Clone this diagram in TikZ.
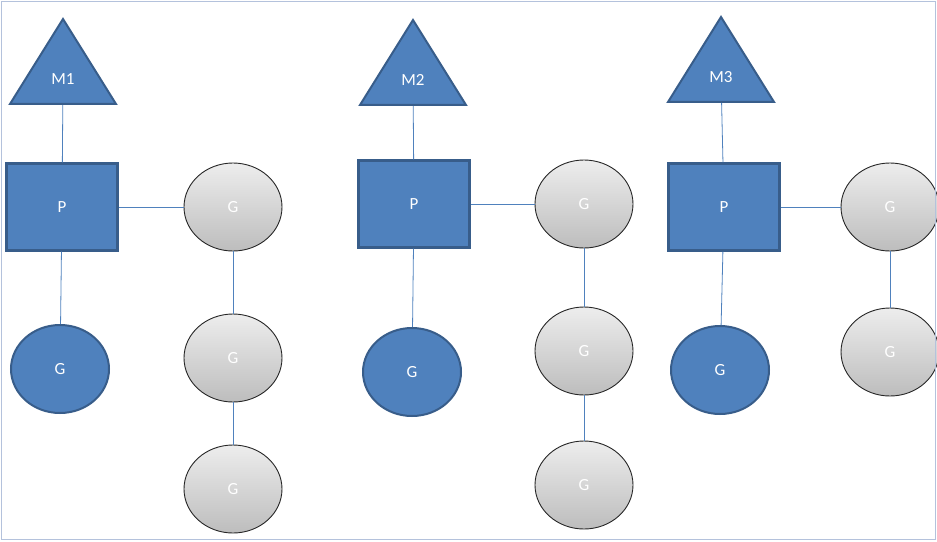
\documentclass[tikz,border=0pt]{standalone}
\usepackage{fontspec}
\setmainfont{Carlito}
\usepackage{xcolor}
\usepackage{tikz}
\usetikzlibrary{shapes.geometric}
\definecolor{ofblue}{HTML}{4F81BD}
\definecolor{ofedge}{HTML}{385D8A}
\definecolor{gtop}{HTML}{EDEDED}
\definecolor{gbot}{HTML}{BDBDBD}
\definecolor{framecol}{HTML}{B4C2DC}
\tikzset{
  mtri/.style={isosceles triangle, isosceles triangle stretches, shape border rotate=90,
    minimum width=106pt, minimum height=85pt, inner sep=0pt, anchor=south,
    fill=ofblue, draw=ofedge, line width=2pt, text=white},
  pbox/.style={rectangle, minimum width=111pt, minimum height=87pt,
    fill=ofblue, draw=ofedge, line width=2.4pt, text=white},
  gblue/.style={ellipse, minimum width=98pt, minimum height=88pt, inner sep=0pt,
    fill=ofblue, draw=ofedge, line width=2pt, text=white},
  ggray/.style={ellipse, minimum width=98pt, minimum height=88pt, inner sep=0pt,
    top color=gtop, bottom color=gbot, draw=black!85, line width=0.9pt, text=white},
  link/.style={draw=ofblue, line width=0.8pt}
}
\begin{document}
\begin{tikzpicture}[x=1pt, y=-1pt, font=\fontsize{17}{20}\selectfont]
  \useasboundingbox (0,0) rectangle (937,541);
  \node[mtri] (m1) at (63,105) {M1};
  \node[pbox] (p1) at (62,207) {P};
  \node[gblue] (gb1) at (60,369) {G};
  \node[ggray] (ga1) at (233,207) {G};
  \node[ggray] (gb1x) at (233,358) {G};
  \node[ggray] (gc1) at (233,489) {G};

  \node[mtri] (m2) at (413,106) {M2};
  \node[pbox] (p2) at (414,204) {P};
  \node[gblue] (gb2) at (412,372) {G};
  \node[ggray] (ga2) at (584,204) {G};
  \node[ggray] (gb2x) at (584,351) {G};
  \node[ggray] (gc2) at (584,485) {G};

  \node[mtri] (m3) at (721,103) {M3};
  \node[pbox] (p3) at (724,207) {P};
  \node[gblue] (gb3) at (720,370) {G};
  \node[ggray] (ga3) at (890,207) {G};
  \node[ggray] (gb3x) at (890,352) {G};

  \foreach \a/\b in {m1/p1,p1/gb1,p1/ga1,ga1/gb1x,gb1x/gc1,
                     m2/p2,p2/gb2,p2/ga2,ga2/gb2x,gb2x/gc2,
                     m3/p3,p3/gb3,p3/ga3,ga3/gb3x}{
    \path[link] (\a) -- (\b);}
  \draw[framecol, line width=1pt] (1,1) rectangle (935,539);
\end{tikzpicture}
\end{document}
